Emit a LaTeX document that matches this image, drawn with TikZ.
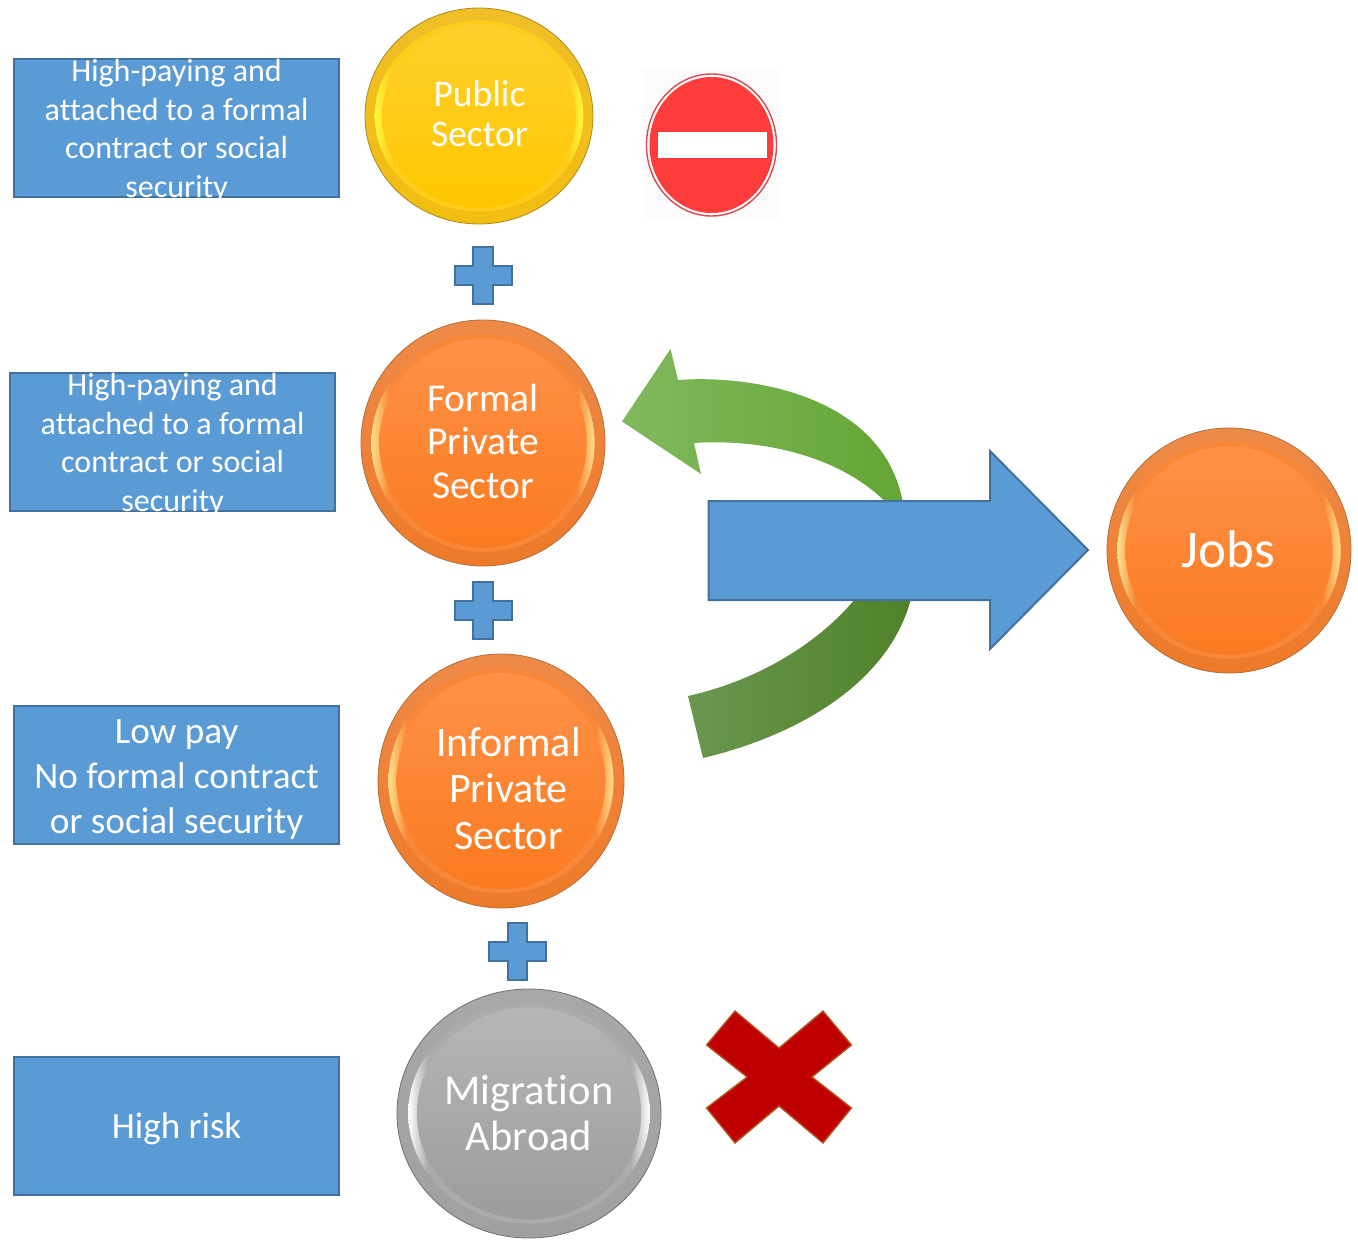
\documentclass[tikz,border=0pt]{standalone}
\usepackage{fontspec}
\setmainfont[RawFeature={-liga}]{Carlito}
\usetikzlibrary{shapes.geometric}
\definecolor{bluefill}{HTML}{5B9BD5}
\definecolor{blueedge}{HTML}{41719C}
\definecolor{xred}{HTML}{C00000}
\definecolor{xedge}{HTML}{AE5A21}
\definecolor{signred}{HTML}{FF3B3B}
\definecolor{signedge}{HTML}{D84A50}
\definecolor{upgreenA}{HTML}{80B95E}
\definecolor{upgreenB}{HTML}{70AF41}
\definecolor{upgreenC}{HTML}{64A534}
\definecolor{lowgreenA}{HTML}{6B9650}
\definecolor{lowgreenB}{HTML}{4E8228}
\definecolor{yelrim}{HTML}{A88A20}
\definecolor{yelouta}{HTML}{F0BE28}
\definecolor{yeloutb}{HTML}{F2BE10}
\definecolor{yellight}{HTML}{FFF83A}
\definecolor{yelmid}{HTML}{FFCC1C}
\definecolor{yeltop}{HTML}{FFD02D}
\definecolor{yelbot}{HTML}{FFC600}
\definecolor{orrim}{HTML}{B0703C}
\definecolor{orouta}{HTML}{EE8A48}
\definecolor{oroutb}{HTML}{EE7A28}
\definecolor{orlight}{HTML}{FFE08C}
\definecolor{ormid}{HTML}{F88838}
\definecolor{ortop}{HTML}{FF9248}
\definecolor{orbot}{HTML}{FA7A20}
\definecolor{grrim}{HTML}{707070}
\definecolor{grouta}{HTML}{A8A8A8}
\definecolor{groutb}{HTML}{A0A0A0}
\definecolor{grlight}{HTML}{FFFFFF}
\definecolor{grmid}{HTML}{ABABAB}
\definecolor{grtop}{HTML}{B6B6B6}
\definecolor{grbot}{HTML}{9C9C9C}
\pgfdeclarehorizontalshading{yelring}{100bp}{color(0bp)=(yellight); color(25bp)=(yellight); color(29bp)=(yelmid); color(71bp)=(yelmid); color(75bp)=(yellight); color(100bp)=(yellight)}
\pgfdeclarehorizontalshading{orring}{100bp}{color(0bp)=(orlight); color(25bp)=(orlight); color(29bp)=(ormid); color(71bp)=(ormid); color(75bp)=(orlight); color(100bp)=(orlight)}
\pgfdeclarehorizontalshading{grring}{100bp}{color(0bp)=(grlight); color(25bp)=(grlight); color(29bp)=(grmid); color(71bp)=(grmid); color(75bp)=(grlight); color(100bp)=(grlight)}
\tikzset{
  infobox/.style={draw=blueedge,line width=2.2pt,fill=bluefill,anchor=north west,minimum width=325pt,minimum height=138pt,inner sep=0pt},
  boxlabel/.style={text=white,align=center,inner sep=0pt},
  blueshape/.style={draw=blueedge,line width=2pt,fill=bluefill,line join=miter},
  disc/.style={ellipse,inner sep=0pt,line width=.8pt},
  disclabel/.style={text=white,align=center,inner sep=0pt},
}
% name, cx, cy, rx, ry, colour prefix
\newcommand{\beveldisc}[6]{%
  \node[disc,draw=#6rim,top color=#6outa,bottom color=#6outb,minimum width=#4*2pt,minimum height=#5*2pt] (#1) at (#2,#3) {};
  \shade[shading=#6ring] (#2,#3) ellipse [x radius=0.915*#4,y radius=0.885*#5];
  \shade[top color=#6top,bottom color=#6bot] (#2,#3) ellipse [x radius=0.85*#4,y radius=0.85*#5];
}
\begin{document}
\begin{tikzpicture}[x=1pt,y=-1pt]
\useasboundingbox (0,0) rectangle (1358,1241);

% boxes
\node[infobox] (b1) at (13,58) {};
\node[boxlabel,font=\fontsize{32}{38.5}\selectfont,yshift=-3pt] (t1) at (b1.center) {High-paying and\\attached to a formal\\contract or social\\security};
\node[infobox] (b2) at (9,372) {};
\node[boxlabel,font=\fontsize{32}{38.5}\selectfont,yshift=-3pt] (t2) at (b2.center) {High-paying and\\attached to a formal\\contract or social\\security};
\node[infobox] (b3) at (13,705) {};
\node[boxlabel,font=\fontsize{37.2}{45}\selectfont,yshift=-4pt] (t3) at (b3.center) {Low pay\\No formal contract\\or social security};
\node[infobox] (b4) at (13,1056) {};
\node[boxlabel,font=\fontsize{37}{42}\selectfont,yshift=-3pt] (t4) at (b4.center) {High risk};

% green curved arrow
\shade[left color=upgreenA,middle color=upgreenB,right color=upgreenC]
  (622,421.5) -- (670.5,349) -- (678,380)
  .. controls (760,374) and (890,400) .. (904,510)
  -- (893,510)
  .. controls (850,460) and (770,438) .. (694,443)
  -- (701,474) -- cycle;
\shade[left color=lowgreenA,right color=lowgreenB]
  (688,696) .. controls (760,680) and (825,640) .. (862,590)
  -- (913,590)
  .. controls (895,680) and (800,735) .. (703,758) -- cycle;

% blue arrow
\path[blueshape] (708.5,501) -- (990,501) -- (990,451) -- (1088,550) -- (990,649) -- (990,600) -- (708.5,600) -- cycle;

% discs
\beveldisc{pub}{479}{116}{114}{108}{yel}
\node[disclabel,font=\fontsize{37.5}{40}\selectfont] (pubt) at (479.5,113.5) {Public\\Sector};
\beveldisc{formal}{483}{443}{122}{123}{or}
\node[disclabel,font=\fontsize{39.5}{43.5}\selectfont] (formalt) at (483,441) {Formal\\Private\\Sector};
\beveldisc{inf}{501}{781}{123}{127}{or}
\node[disclabel,font=\fontsize{42}{46.5}\selectfont] (inft) at (508.5,788.5) {Informal\\Private\\Sector};
\beveldisc{jobs}{1229}{550.5}{122}{122.5}{or}
\node[disclabel,font=\fontsize{53}{56}\selectfont] (jobst) at (1228.5,549) {Jobs};
\beveldisc{mig}{529}{1113.5}{132}{124.5}{gr}
\node[disclabel,font=\fontsize{42.5}{46}\selectfont] (migt) at (529,1113) {Migration\\Abroad};

% plus signs
\path[blueshape] (473,247.5) -- (493,247.5) -- (493,266.5) -- (512,266.5) -- (512,285.5) -- (493,285.5) -- (493,304.5) -- (473,304.5) -- (473,285.5) -- (454.5,285.5) -- (454.5,266.5) -- (473,266.5) -- cycle;
\path[blueshape] (473,581.5) -- (493,581.5) -- (493,600.5) -- (512,600.5) -- (512,619.5) -- (493,619.5) -- (493,638.5) -- (473,638.5) -- (473,619.5) -- (454.5,619.5) -- (454.5,600.5) -- (473,600.5) -- cycle;
\path[blueshape] (507.5,922.5) -- (527,922.5) -- (527,941.5) -- (546,941.5) -- (546,960.5) -- (527,960.5) -- (527,979.5) -- (507.5,979.5) -- (507.5,960.5) -- (488.5,960.5) -- (488.5,941.5) -- (507.5,941.5) -- cycle;

% no-entry sign
\fill[black!1.5] (644,69) rectangle (779,218);
\node[ellipse,draw=signedge,line width=1.4pt,fill=white,minimum width=130pt,minimum height=142pt,inner sep=0pt] (sign) at (711.5,145) {};
\fill[signred] (sign.center) ellipse [x radius=62,y radius=68];
\fill[white] (658,132) rectangle (767,158);

% red cross
\path[draw=xedge,fill=xred,line width=1.4pt,line join=miter] (735,1011) -- (779,1048) -- (823,1011) -- (851.5,1045) -- (812,1077) -- (851.5,1108) -- (823,1143) -- (779,1106) -- (735,1143) -- (706.5,1108) -- (747,1077) -- (706.5,1045) -- cycle;
\end{tikzpicture}
\end{document}
